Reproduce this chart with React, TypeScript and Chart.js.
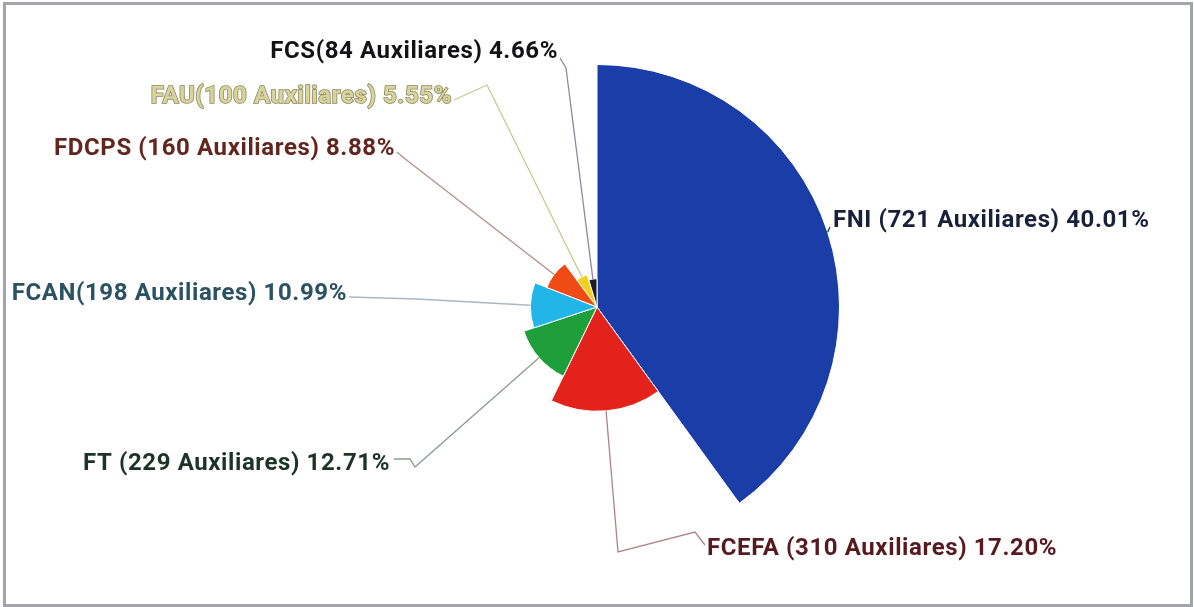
import React, { useEffect, useRef } from 'react';
import { Chart, registerables } from 'chart.js';

Chart.register(...registerables);

// ---- data ----
const CATEGORIES = ['FNI', 'FCEFA', 'FT', 'FCAN', 'FDCPS', 'FAU', 'FCS'];
const NAME_SEPARATORS = [' ', ' ', ' ', '', ' ', '', ''];
const VALUES = [721, 310, 229, 198, 160, 100, 84];
const UNIT = 'Auxiliares';

// ---- styles ----
const SLICE_COLORS = ['#1b3da8', '#e3221c', '#1f9e3c', '#22b6e8', '#f04b14', '#f2cf1d', '#1e1e22'];
const TEXT_COLORS = ['#18203a', '#561a20', '#1c3427', '#2b5262', '#62261f', '#d9d49c', '#131317'];
const TEXT_STROKES = [null, null, null, null, null, '#8c8760', null];
const LINE_COLORS = ['#333840', '#b08484', '#8a9a90', '#a8b8c2', '#b09088', '#c8c890', '#9088a0'];

// label placement, relative to the chart centre (layout only)
type LabelLayout = { dx: number; dy: number; align: CanvasTextAlign; elbows: [number, number][] };
const LABEL_LAYOUT: LabelLayout[] = [
  { dx: 236, dy: -80, align: 'left', elbows: [[233, -80]] },
  { dx: 110, dy: 248, align: 'left', elbows: [[21, 245], [98, 225], [108, 238]] },
  { dx: -207, dy: 163, align: 'right', elbows: [[-182, 160], [-187, 152], [-203, 152]] },
  { dx: -250, dy: -7, align: 'right', elbows: [[-180, -8], [-248, -10]] },
  { dx: -202, dy: -152, align: 'right', elbows: [[-193, -149], [-200, -155]] },
  { dx: -145, dy: -204, align: 'right', elbows: [[-110, -222], [-143, -207]] },
  { dx: -39, dy: -249, align: 'right', elbows: [[-31, -239], [-37, -249]] },
];

const TOTAL = VALUES.reduce((a, b) => a + b, 0);
const LABELS = CATEGORIES.map(
  (c, i) => `${c}${NAME_SEPARATORS[i]}(${VALUES[i]} ${UNIT}) ${((VALUES[i] / TOTAL) * 100).toFixed(2)}%`
);

const roseRadiusPlugin = {
  id: 'roseRadius',
  afterDatasetUpdate(chart: any, args: any) {
    const meta = args.meta;
    const ctrl: any = meta.controller;
    const data = chart.data.datasets[args.index].data as number[];
    const maxV = Math.max(...data);
    meta.data.forEach((arc: any, i: number) => {
      arc.outerRadius = (ctrl.outerRadius * data[i]) / maxV;
    });
  },
};

const labelPlugin = {
  id: 'roseLabels',
  afterDatasetsDraw(chart: any) {
    const ctx: any = chart.ctx;
    const meta = chart.getDatasetMeta(0);
    ctx.save();
    ctx.font = '700 24px Roboto';
    ctx.letterSpacing = '0.6px';
    ctx.textBaseline = 'alphabetic';
    meta.data.forEach((arc: any, i: number) => {
      const lay = LABEL_LAYOUT[i];
      const mid = (arc.startAngle + arc.endAngle) / 2;
      const sx = arc.x + Math.cos(mid) * arc.outerRadius;
      const sy = arc.y + Math.sin(mid) * arc.outerRadius;
      ctx.beginPath();
      ctx.moveTo(sx, sy);
      lay.elbows.forEach(([ex, ey]) => ctx.lineTo(arc.x + ex, arc.y + ey));
      ctx.strokeStyle = LINE_COLORS[i];
      ctx.lineWidth = 1.3;
      ctx.stroke();
      ctx.textAlign = lay.align;
      const tx = arc.x + lay.dx;
      const ty = arc.y + lay.dy;
      const stroke = TEXT_STROKES[i];
      if (stroke) {
        ctx.strokeStyle = stroke;
        ctx.lineWidth = 1.6;
        ctx.strokeText(chart.data.labels[i], tx, ty);
      }
      ctx.fillStyle = TEXT_COLORS[i];
      ctx.fillText(chart.data.labels[i], tx, ty);
    });
    ctx.restore();
  },
};

export default function App() {
  const canvasRef = useRef<HTMLCanvasElement | null>(null);

  useEffect(() => {
    if (!canvasRef.current) return;
    const chart = new Chart(canvasRef.current, {
      type: 'pie',
      data: {
        labels: LABELS,
        datasets: [
          {
            data: VALUES,
            backgroundColor: SLICE_COLORS,
            borderColor: '#ffffff',
            borderWidth: 1,
          },
        ],
      },
      options: {
        animation: false,
        responsive: true,
        maintainAspectRatio: false,
        events: [],
        layout: { padding: { top: 64, bottom: 57, left: 0, right: 0 } },
        plugins: {
          legend: { display: false },
          tooltip: { enabled: false },
        },
      },
      plugins: [roseRadiusPlugin, labelPlugin],
    });
    return () => chart.destroy();
  }, []);

  return (
    <div style={{ position: 'absolute', left: 0, top: 0, width: 1194, height: 607, background: '#ffffff' }}>
      <canvas ref={canvasRef} />
      <div
        style={{
          position: 'absolute',
          left: 3,
          top: 2,
          width: 1190,
          height: 605,
          boxSizing: 'border-box',
          border: '3px solid #a2a6aa',
          pointerEvents: 'none',
        }}
      />
    </div>
  );
}
